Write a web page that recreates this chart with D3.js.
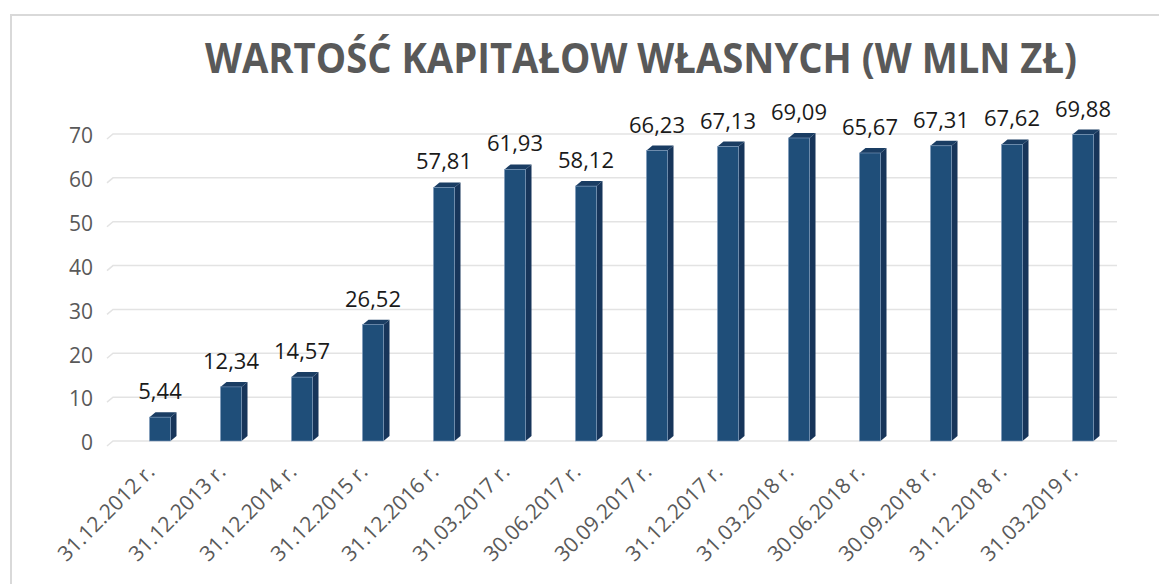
<!DOCTYPE html>
<html>
<head>
<meta charset="utf-8">
<script src="https://cdn.jsdelivr.net/npm/d3@7"></script>
<style>
  body { margin: 0; background: #fff; }
  text { font-family: "Open Sans", sans-serif; }
</style>
</head>
<body>
<svg id="chart" width="1159" height="584"></svg>
<script>
// data
var categories = ["31.12.2012 r.", "31.12.2013 r.", "31.12.2014 r.", "31.12.2015 r.",
  "31.12.2016 r.", "31.03.2017 r.", "30.06.2017 r.", "30.09.2017 r.", "31.12.2017 r.",
  "31.03.2018 r.", "30.06.2018 r.", "30.09.2018 r.", "31.12.2018 r.", "31.03.2019 r."];
var values = [5.44, 12.34, 14.57, 26.52, 57.81, 61.93, 58.12, 66.23, 67.13,
  69.09, 65.67, 67.31, 67.62, 69.88];
var yTicks = [0, 10, 20, 30, 40, 50, 60, 70];
var title = "WARTOŚĆ KAPITAŁOW  WŁASNYCH (W MLN ZŁ)";

var svg = d3.select("#chart");

// depth offset of the 3D look
var dx = 6, dy = -5;

var x = d3.scaleBand()
  .domain(categories)
  .range([124.5, 1118.5])
  .paddingInner(0.704)
  .paddingOuter(0.352);

var y = d3.scaleLinear()
  .domain([0, 70])
  .range([441, 134]);

// chart frame
svg.append("path")
  .attr("d", "M11,584 V15 H1159")
  .attr("fill", "none")
  .attr("stroke", "#d9d9d9")
  .attr("stroke-width", 2);

// title
svg.append("text")
  .attr("x", 641)
  .attr("y", 73)
  .attr("text-anchor", "middle")
  .attr("textLength", 872)
  .attr("lengthAdjust", "spacingAndGlyphs")
  .style("font-size", "41px")
  .style("font-weight", "bold")
  .style("fill", "#595959")
  .text(title);

// gridlines on back wall, with the short floor diagonal
var left = x.range()[0] - 11.5;
var right = x.range()[1] - 1.5;
svg.append("g")
  .selectAll("path")
  .data(yTicks)
  .join("path")
  .attr("d", function(d) {
    return "M" + (left - dx) + "," + (y(d) - dy) + " L" + left + "," + y(d) + " H" + right;
  })
  .attr("fill", "none")
  .attr("stroke", "#e3e3e3")
  .attr("stroke-width", 1.5);

// y axis labels
var yAxis = d3.axisLeft(y).tickValues(yTicks).tickSize(0).tickPadding(0);
var gy = svg.append("g")
  .attr("transform", "translate(93,2)")
  .call(yAxis);
gy.select(".domain").remove();
gy.selectAll("text")
  .style("font-size", "21px")
  .style("fill", "#595959")
  .attr("font-family", null);

// bars
var bars = svg.append("g")
  .selectAll("g")
  .data(values)
  .join("g");

bars.append("path") // side face
  .attr("d", function(d, i) {
    var x1 = x(categories[i]) + x.bandwidth();
    return "M" + x1 + "," + y(0) + " L" + (x1 + dx) + "," + (y(0) + dy) +
      " L" + (x1 + dx) + "," + (y(d) + dy) + " L" + x1 + "," + y(d) + "Z";
  })
  .attr("fill", "#17355a");

bars.append("path") // top face
  .attr("d", function(d, i) {
    var x0 = x(categories[i]), x1 = x0 + x.bandwidth();
    return "M" + x0 + "," + y(d) + " L" + (x0 + dx) + "," + (y(d) + dy) +
      " L" + (x1 + dx) + "," + (y(d) + dy) + " L" + x1 + "," + y(d) + "Z";
  })
  .attr("fill", "#1a3d63");

bars.append("rect") // front face
  .attr("x", function(d, i) { return x(categories[i]); })
  .attr("y", function(d) { return y(d); })
  .attr("width", x.bandwidth())
  .attr("height", function(d) { return y(0) - y(d); })
  .attr("fill", "#1f4e79")
  .attr("stroke", "#7f9cbd")
  .attr("stroke-width", 0.6);

// value labels
svg.append("g")
  .selectAll("text")
  .data(values)
  .join("text")
  .attr("x", function(d, i) { return x(categories[i]) + x.bandwidth() / 2; })
  .attr("y", function(d) { return y(d) - 18; })
  .attr("text-anchor", "middle")
  .style("font-size", "22px")
  .style("fill", "#1a1a1a")
  .text(function(d) { return d.toFixed(2).replace(".", ","); });

// category labels, rotated
svg.append("g")
  .selectAll("text")
  .data(categories)
  .join("text")
  .attr("transform", function(d) {
    return "translate(" + (x(d) + x.bandwidth() / 2 - 4) + ",473) rotate(-45)";
  })
  .attr("text-anchor", "end")
  .style("font-size", "21px")
  .style("fill", "#595959")
  .text(function(d) { return d; });
</script>
</body>
</html>
